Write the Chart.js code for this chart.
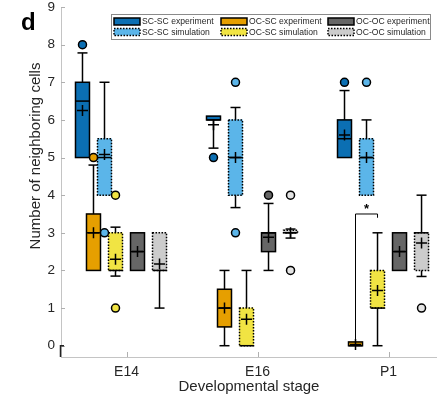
<!DOCTYPE html>
<html>
<head>
<meta charset="utf-8">
<script src="https://cdn.jsdelivr.net/npm/chart.js@4.4.1/dist/chart.umd.min.js"></script>
<style>
  html, body { margin: 0; padding: 0; background: #fff; overflow: hidden; }
  #wrap { position: relative; width: 437px; height: 398px; }
</style>
</head>
<body>
<div id="wrap"><canvas id="chart" width="437" height="398"></canvas></div>
<script>
'use strict';

// ── Data ────────────────────────────────────────────────────────────────
const stages = ['E14', 'E16', 'P1'];
const seriesNames = ['SC-SC experiment', 'SC-SC simulation', 'OC-SC experiment',
                     'OC-SC simulation', 'OC-OC experiment', 'OC-OC simulation'];
const yTicks = [0, 1, 2, 3, 4, 5, 6, 7, 8, 9];

// one row per series, one column per stage
const whiskerLow = [
  [5, 5.25, 5],
  [4, 3.67, 4],
  [2, 0, 0],
  [1.85, 0, 0],
  [2, 2, 2],
  [1, 2.86, 1.84],
];
const quart1 = [
  [5, 6, 5],
  [4, 4, 4],
  [2, 0.5, 0],
  [2, 0, 1],
  [2, 2.5, 2],
  [2, 3, 2],
];
const medians = [
  [6.5, 6, 5.5],
  [5, 5, 5],
  [3, 1, 0],
  [2, 0, 1],
  [2.5, 3, 2.5],
  [2, 3, 3],
];
const quart3 = [
  [7, 6.1, 6],
  [5.5, 6, 5.5],
  [3.5, 1.5, 0.1],
  [3, 1, 2],
  [3, 3, 3],
  [3, 3.07, 3],
];
const whiskerHigh = [
  [7.78, 6.1, 6.78],
  [7, 6.33, 6],
  [4.8, 2, 0.1],
  [3.15, 2, 3],
  [3, 3.78, 3],
  [3, 3.1, 4],
];
const means = [
  [6.25, 5.87, 5.6],
  [5.08, 5, 5],
  [3, 1, 0.03],
  [2.3, 0.7, 1.47],
  [2.5, 2.88, 2.5],
  [2.17, 3, 2.73],
];
const outliers = [
  [[8], [5], [7]],
  [[3], [7, 3], [7]],
  [[5], [], []],
  [[4, 1], [], []],
  [[], [4], []],
  [[], [4, 2], [1]],
];
// significance bracket at P1 (OC-SC experiment vs simulation): left foot, top, right foot
const bracketY = [0.16, 3.5, 3.4];
const sigLabel = '*';

// ── Styles ──────────────────────────────────────────────────────────────
const FONT = "'Liberation Sans', Arial, sans-serif";
const TXT = '#262626';
const fills = ['#0b6fb3', '#5bb5e9', '#e69f00', '#f1e443', '#666666', '#cccccc'];
const dotFills = ['#0b6fb3', '#5bb5e9', '#e69f00', '#f1e443', '#666666', '#e4e4e4'];
const offsets = [-0.336, -0.168, -0.252, -0.084, 0.084, 0.252];
const dotted = [false, true, false, true, false, true];
const BOX_W = 14;

const xAt = (s, i) => i + 1 + offsets[s];

// ── Datasets ────────────────────────────────────────────────────────────
const boxSets = seriesNames.map((name, s) => ({
  type: 'bar',
  label: name,
  series: s,
  data: stages.map((_, i) => ({ x: xAt(s, i), y: [quart1[s][i], quart3[s][i]] })),
  backgroundColor: fills[s],
  borderWidth: 0,
  barThickness: BOX_W,
  grouped: false,
  order: 3,
}));

const outlierSets = seriesNames.map((name, s) => ({
  type: 'scatter',
  label: name + ' outliers',
  data: stages.flatMap((_, i) => outliers[s][i].map(v => ({ x: xAt(s, i), y: v }))),
  pointRadius: 4,
  pointBackgroundColor: dotFills[s],
  pointBorderColor: '#000',
  pointBorderWidth: 1.5,
  order: 1,
}));

const meanSet = {
  type: 'scatter',
  label: 'mean',
  data: seriesNames.flatMap((_, s) => stages.map((_, i) => ({ x: xAt(s, i), y: means[s][i] }))),
  pointStyle: 'cross',
  pointRadius: 5.5,
  borderColor: '#000',
  pointBorderColor: '#000',
  pointBorderWidth: 1.5,
  order: 1,
};

// ── Box outlines, whiskers, medians ─────────────────────────────────────
const boxLines = {
  id: 'boxLines',
  afterDatasetDraw(chart, args) {
    const ds = chart.data.datasets[args.index];
    if (ds.type !== 'bar') return;
    const s = ds.series;
    const { ctx, scales: { x, y } } = chart;
    const half = BOX_W / 2, cap = 5;
    ctx.save();
    ctx.strokeStyle = '#000';
    ctx.lineWidth = 1.5;
    const seg = (x1, y1, x2, y2) => { ctx.beginPath(); ctx.moveTo(x1, y1); ctx.lineTo(x2, y2); ctx.stroke(); };
    stages.forEach((_, i) => {
      const xc = x.getPixelForValue(xAt(s, i));
      const yLo = y.getPixelForValue(whiskerLow[s][i]);
      const yQ1 = y.getPixelForValue(quart1[s][i]);
      const yMd = y.getPixelForValue(medians[s][i]);
      const yQ3 = y.getPixelForValue(quart3[s][i]);
      const yHi = y.getPixelForValue(whiskerHigh[s][i]);
      ctx.setLineDash([]);
      if (whiskerHigh[s][i] > quart3[s][i]) { seg(xc, yQ3, xc, yHi); seg(xc - cap, yHi, xc + cap, yHi); }
      if (whiskerLow[s][i] < quart1[s][i]) { seg(xc, yQ1, xc, yLo); seg(xc - cap, yLo, xc + cap, yLo); }
      ctx.setLineDash(dotted[s] ? [1.5, 1.5] : []);
      ctx.strokeRect(xc - half, yQ3, BOX_W, yQ1 - yQ3);
      ctx.setLineDash([]);
      seg(xc - half, yMd, xc + half, yMd);
    });
    ctx.restore();
  }
};

// ── Decorations: inward ticks, y title, panel letter, legend, bracket ───
const decorations = {
  id: 'decorations',
  afterDraw(chart) {
    const { ctx, chartArea: a, scales: { x, y } } = chart;
    ctx.save();

    // inward tick marks
    ctx.strokeStyle = '#b0b0b0';
    ctx.lineWidth = 1;
    yTicks.forEach(v => {
      const py = Math.round(y.getPixelForValue(v)) + 0.5;
      ctx.beginPath(); ctx.moveTo(a.left, py); ctx.lineTo(a.left + 4, py); ctx.stroke();
    });
    stages.forEach((_, i) => {
      const px = Math.round(x.getPixelForValue(i + 1)) + 0.5;
      ctx.beginPath(); ctx.moveTo(px, a.bottom); ctx.lineTo(px, a.bottom - 5); ctx.stroke();
    });

    // dark corner mark at the y origin
    const y0 = y.getPixelForValue(0);
    ctx.strokeStyle = '#222';
    ctx.lineWidth = 1.5;
    ctx.beginPath(); ctx.moveTo(a.left + 3, y0); ctx.lineTo(a.left - 0.5, y0); ctx.lineTo(a.left - 0.5, a.bottom); ctx.stroke();

    // y axis title
    ctx.save();
    ctx.translate(36, 156);
    ctx.rotate(-Math.PI / 2);
    ctx.fillStyle = TXT;
    ctx.font = `15px ${FONT}`;
    ctx.textAlign = 'center';
    ctx.textBaseline = 'middle';
    ctx.fillText('Number of neighboring cells', 0, 0);
    ctx.restore();

    // significance bracket
    const xl = x.getPixelForValue(xAt(2, 2));
    const xr = x.getPixelForValue(xAt(3, 2));
    ctx.strokeStyle = '#000';
    ctx.lineWidth = 1;
    ctx.beginPath();
    ctx.moveTo(xl, y.getPixelForValue(bracketY[0]));
    ctx.lineTo(xl, y.getPixelForValue(bracketY[1]));
    ctx.lineTo(xr, y.getPixelForValue(bracketY[1]));
    ctx.lineTo(xr, y.getPixelForValue(bracketY[2]));
    ctx.stroke();
    ctx.fillStyle = '#000';
    ctx.font = `bold 13px ${FONT}`;
    ctx.textAlign = 'center';
    ctx.textBaseline = 'middle';
    ctx.fillText(sigLabel, (xl + xr) / 2, y.getPixelForValue(bracketY[1]) - 5);

    // panel letter
    ctx.font = `bold 24px ${FONT}`;
    ctx.textAlign = 'left';
    ctx.textBaseline = 'alphabetic';
    ctx.fillStyle = '#000';
    ctx.fillText('d', 21, 30);

    // legend (3 columns x 2 rows)
    const L = { left: 111, top: 14, right: 430, bottom: 39 };
    const cols = [114, 221, 328];
    const rows = [18, 28.5];
    ctx.fillStyle = '#fff';
    ctx.fillRect(L.left, L.top, L.right - L.left, L.bottom - L.top);
    ctx.strokeStyle = '#8a8a8a';
    ctx.lineWidth = 1;
    ctx.strokeRect(L.left + 0.5, L.top + 0.5, L.right - L.left, L.bottom - L.top);
    ctx.font = `8.6px ${FONT}`;
    ctx.textBaseline = 'middle';
    seriesNames.forEach((name, s) => {
      const cx = cols[Math.floor(s / 2)], ry = rows[s % 2];
      ctx.fillStyle = fills[s];
      ctx.fillRect(cx, ry, 26, 7);
      ctx.strokeStyle = '#000';
      ctx.lineWidth = 1.5;
      ctx.setLineDash(dotted[s] ? [1.5, 1.5] : []);
      ctx.strokeRect(cx, ry, 26, 7);
      ctx.setLineDash([]);
      ctx.fillStyle = TXT;
      ctx.fillText(name, cx + 28, ry + 3.8);
    });

    ctx.restore();
  }
};

// ── Chart ───────────────────────────────────────────────────────────────
new Chart(document.getElementById('chart').getContext('2d'), {
  type: 'bar',
  data: { datasets: [meanSet, ...outlierSets, ...boxSets] },
  options: {
    responsive: false,
    animation: false,
    devicePixelRatio: 1,
    layout: { autoPadding: false, padding: { top: 7, left: 0, right: 0, bottom: 0 } },
    plugins: { legend: { display: false }, tooltip: { enabled: false } },
    scales: {
      x: {
        type: 'linear',
        offset: false,
        min: 0.5,
        max: 3.37,
        afterBuildTicks: sc => { sc.ticks = stages.map((_, i) => ({ value: i + 1 })); },
        afterFit: sc => { sc.height = 41; sc.paddingLeft = 0; sc.paddingRight = 0; },
        grid: { display: false, drawTicks: false },
        border: { display: true, color: '#c4c4c4', width: 1 },
        ticks: {
          callback: (v, idx) => stages[idx],
          maxRotation: 0, autoSkip: false, padding: 7,
          color: TXT, font: { family: FONT, size: 14 },
        },
        title: {
          display: true, text: 'Developmental stage', color: TXT,
          font: { family: FONT, size: 15 }, padding: { top: 0, bottom: 2 },
        },
      },
      y: {
        type: 'linear',
        min: -0.3,
        max: 9,
        afterBuildTicks: sc => { sc.ticks = yTicks.map(v => ({ value: v })); },
        afterFit: sc => { sc.width = 61; sc.paddingTop = 0; sc.paddingBottom = 0; },
        grid: { display: false, drawTicks: false },
        border: { display: true, color: '#c4c4c4', width: 1 },
        ticks: { padding: 6, color: TXT, font: { family: FONT, size: 13.5 } },
      },
    },
  },
  plugins: [boxLines, decorations],
});
</script>
</body>
</html>
